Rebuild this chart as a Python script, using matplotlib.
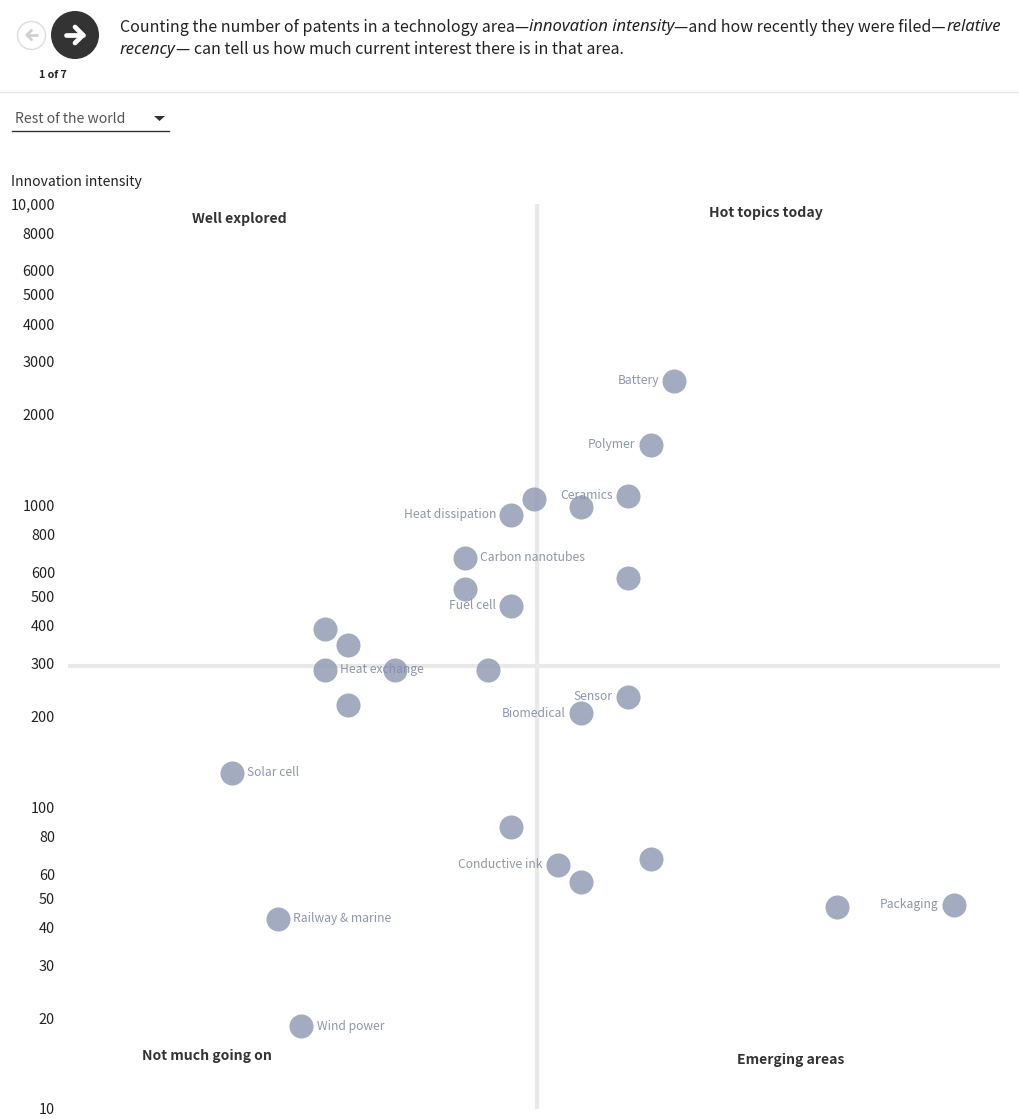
import matplotlib
matplotlib.use("Agg")
import matplotlib.pyplot as plt
from matplotlib.patches import Circle, Polygon
from matplotlib.lines import Line2D

BASE = ['Noto Sans CJK SC', 'DejaVu Sans']
ITALIC = ['Noto Sans', 'DejaVu Sans']
plt.rcParams['font.family'] = BASE

# ---- data ----
recency = [0.6, 0.5, 0.4, 0.2, 0.0, -0.1, -0.3, -0.3, -0.1, 0.4,
           -0.9, -0.8, -0.9, -0.6, -0.2, 0.4, 0.2, -0.8, -1.3, -0.1,
           0.1, 0.2, 0.5, 1.3, 1.8, -1.1, -1.0]
intensity = [2590, 1595, 1076, 993, 1052, 931, 670, 530, 465, 574,
             390, 345, 286, 286, 285, 232, 205, 218, 130, 86,
             64.4, 56.5, 67.4, 46.7, 47.6, 42.6, 18.8]
names = ['Battery', 'Polymer', 'Ceramics', '', '', 'Heat dissipation', 'Carbon nanotubes', '', 'Fuel cell', '',
         '', '', 'Heat exchange', '', '', 'Sensor', 'Biomedical', '', 'Solar cell', '',
         'Conductive ink', '', '', '', 'Packaging', 'Railway & marine', 'Wind power']
right_labels = {'Carbon nanotubes', 'Heat exchange', 'Solar cell', 'Railway & marine', 'Wind power'}
y_ticks = [10, 20, 30, 40, 50, 60, 80, 100, 200, 300, 400, 500, 600, 800, 1000,
           2000, 3000, 4000, 5000, 6000, 8000, 10000]
y_tick_labels = ['10', '20', '30', '40', '50', '60', '80', '100', '200', '300', '400', '500', '600', '800', '1000',
                 '2000', '3000', '4000', '5000', '6000', '8000', '10,000']
x_split = 0.01
y_split = 294
quadrants = [('Well explored', 239, 219), ('Hot topics today', 765.5, 213),
             ('Not much going on', 207, 1056), ('Emerging areas', 791, 1060)]

W, H = 1020, 1119
fig = plt.figure(figsize=(W / 100, H / 100), dpi=100, facecolor='white')

# main scatter axes (px 68.5..1000.5 horizontally, 204..1109 vertically)
ax = fig.add_axes([68.5 / W, 1 - 1109 / H, 932 / W, (1109 - 204) / H])
ax.set_xlim(-2, 2)
ax.set_yscale('log')
ax.set_ylim(10, 10000)
ax.patch.set_alpha(0)
for s in ax.spines.values():
    s.set_visible(False)
ax.set_xticks([])
ax.set_yticks(y_ticks)
ax.set_yticklabels(y_tick_labels, fontsize=10.4, color='#222222')
ax.minorticks_off()
ax.tick_params(axis='y', length=0, pad=9.7)

ax.axvline(x_split, color='#e9e9e9', lw=3, zorder=1)
ax.axhline(y_split, color='#e9e9e9', lw=3, zorder=1)
ax.scatter(recency, intensity, s=300, color='#939cb6', alpha=0.85, linewidths=0, zorder=2, clip_on=False)

for x, y, n in zip(recency, intensity, names):
    if not n:
        continue
    right = n in right_labels
    ax.annotate(n, (x, y), xytext=(11 if right else -11, 0.2), textcoords='offset points',
                ha='left' if right else 'right', va='center', fontsize=8.7, color='#8890a8',
                alpha=0.95, zorder=3)

# overlay in pixel coordinates for page furniture
ov = fig.add_axes([0, 0, 1, 1])
ov.set_xlim(0, W)
ov.set_ylim(H, 0)
ov.axis('off')
ov.patch.set_alpha(0)

for t, x, y in quadrants:
    ov.text(x, y, t, ha='center', va='center', fontsize=10.1, fontweight='bold', color='#333333')
ov.text(11, 182, 'Innovation intensity', ha='left', va='center', fontsize=10.05, color='#222222')

# header
ov.add_patch(Circle((75, 35), 24, color='#333333', lw=0))
ov.add_patch(Circle((31.5, 35.5), 14, facecolor='white', edgecolor='#dddddd', lw=1))
for cx, col, lw, sc, d in [(75, 'white', 3.4, 1.0, 1), (31.5, '#d0d0d0', 2.0, 0.58, -1)]:
    ov.add_line(Line2D([cx - 9 * sc * d, cx + 8 * sc * d], [35, 35], color=col, lw=lw, solid_capstyle='round'))
    ov.add_line(Line2D([cx, cx + 8 * sc * d, cx], [35 - 8 * sc, 35, 35 + 8 * sc], color=col, lw=lw,
                       solid_capstyle='round', solid_joinstyle='round'))
ov.text(53, 75, '1 of 7', ha='center', va='center', fontsize=7.6, fontweight='bold', color='#222222')
ov.add_line(Line2D([0, W], [92, 92], color='#e8e8e8', lw=1))

def chain(x, y, parts):
    r = fig.canvas.get_renderer()
    for txt, italic in parts:
        t = ov.text(x, y, txt, ha='left', va='center_baseline', color='#222222',
                    fontsize=12.0 if italic else 11.5,
                    family=ITALIC if italic else BASE, style='italic' if italic else 'normal')
        x = ov.transData.inverted().transform(t.get_window_extent(r).get_points())[1, 0]

chain(120, 25, [('Counting the number of patents in a technology area—', False),
                ('innovation intensity', True), ('—and how recently they were filed—', False),
                ('relative', True)])
chain(120, 48, [('recency', True),
                ('— can tell us how much current interest there is in that area.', False)])

# dropdown
ov.text(15, 119, 'Rest of the world', ha='left', va='center', fontsize=10.1, color='#555555')
ov.add_patch(Polygon([(154, 116), (165, 116), (159.5, 121)], color='#333333', lw=0))
ov.add_line(Line2D([12, 169.5], [131, 131], color='#333333', lw=1))

fig.savefig('out.png', dpi=100, facecolor='white')
